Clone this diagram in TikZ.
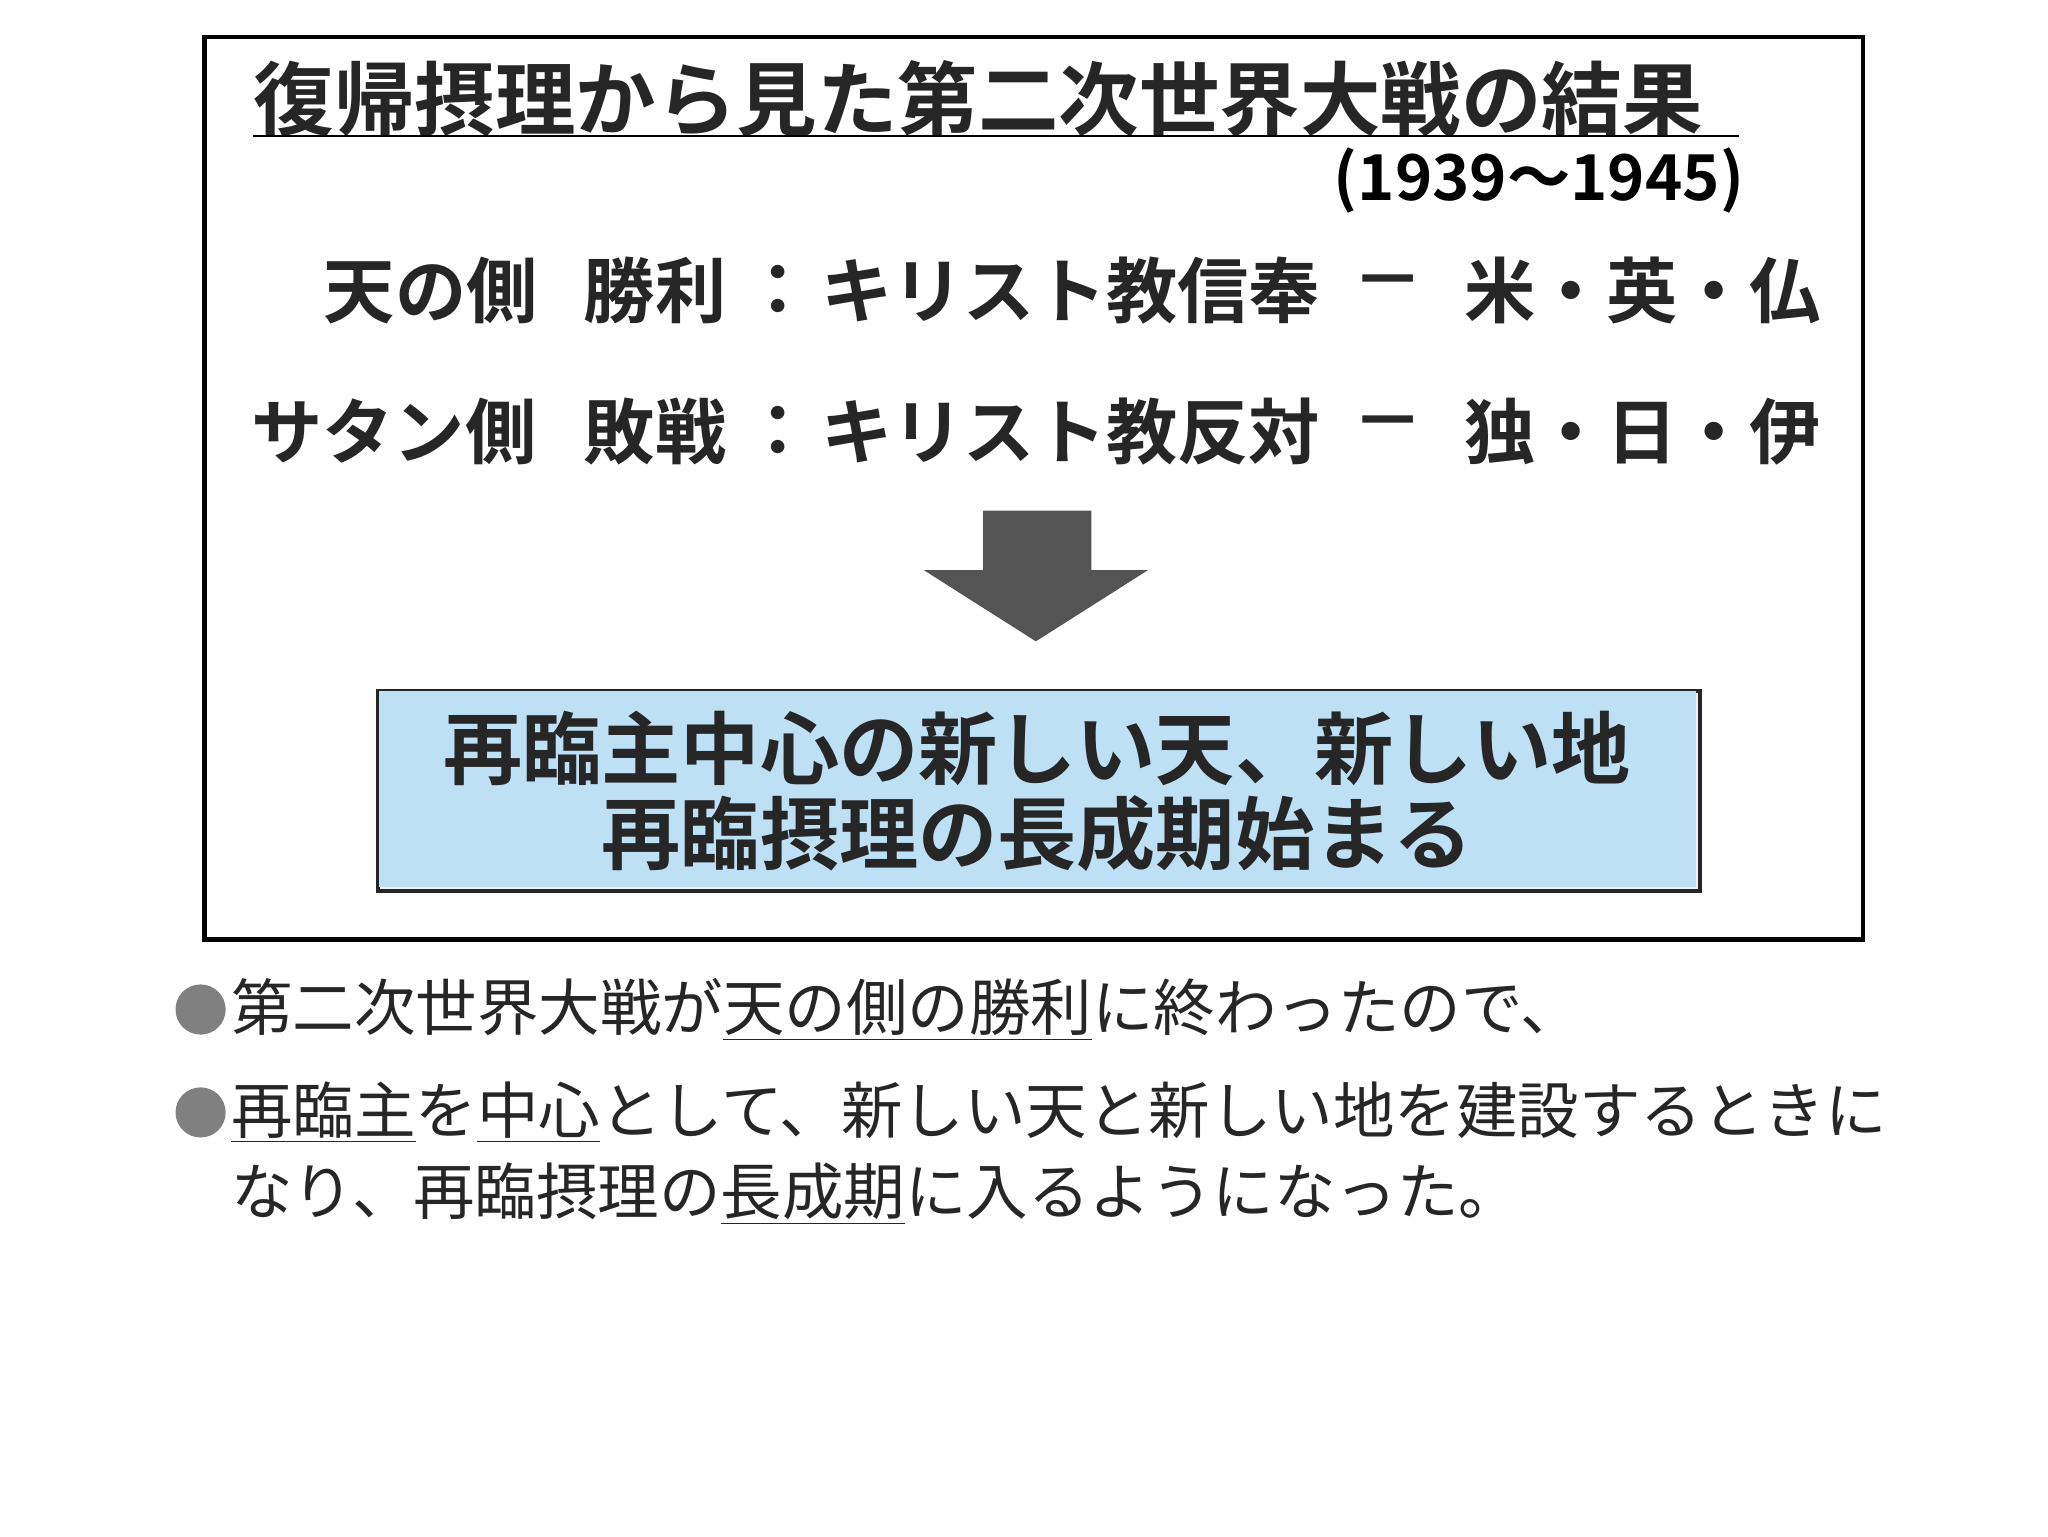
\documentclass[tikz,border=0pt]{standalone}
\usepackage{fontspec}
\setmainfont{Noto Sans CJK JP}[BoldFont={Noto Sans CJK JP Bold}]
\begin{document}
\begin{tikzpicture}[x=0.5pt,y=-0.5pt,
  t/.style={inner sep=0pt,font=\bfseries\fontsize{27}{30}\selectfont,text=black!85},
  b/.style={inner sep=0pt,anchor=west,font=\fontsize{23.3}{28}\selectfont,text=black!85}]
\useasboundingbox[fill=white] (0,0) rectangle (1552,1164);
\draw[line width=1.6pt] (155,28) rectangle (1412,712);
\node[inner sep=0pt,anchor=west,font=\bfseries\fontsize{30.5}{34}\selectfont,text=black!85] (title) at (192,75) {復帰摂理から見た第二次世界大戦の結果};
\draw[line width=1pt] (192,103) -- (1318,103);
\node[inner sep=0pt,anchor=east,font=\bfseries\fontsize{24}{28}\selectfont] (yr) at (1322,137) {(1939～1945)};
\node[t,anchor=west] (a1) at (245,220) {天の側};
\node[t,anchor=west] (a2) at (442,220) {勝利};
\node[t] (a3) at (590,220) {：};
\node[t,anchor=west] (a4) at (622,220) {キリスト教信奉};
\node[t] (a5) at (1052,220) {－};
\node[t,anchor=east] (a6) at (1380,220) {米・英・仏};
\node[t,anchor=west] (c1) at (190,327) {サタン側};
\node[t,anchor=west] (c2) at (442,327) {敗戦};
\node[t] (c3) at (590,327) {：};
\node[t,anchor=west] (c4) at (622,327) {キリスト教反対};
\node[t] (c5) at (1052,327) {－};
\node[t,anchor=east] (c6) at (1380,327) {独・日・伊};
\fill[black!67] (745,387) -- (827,387) -- (827,432) -- (870,432) -- (785,486) -- (700,432) -- (745,432) -- cycle;
\node[draw=black!85,line width=1.5pt,fill=cyan!10!blue!5!white,minimum width=501pt,minimum height=76pt,anchor=north west,inner sep=0pt] (res) at (285,522) {};
\fill[fill={rgb,255:red,190;green,224;blue,245}] (287,524) rectangle (1285,672);
\node[t,font=\bfseries\fontsize{30}{34}\selectfont] (r1) at (786,567) {再臨主中心の新しい天、新しい地};
\node[t,font=\bfseries\fontsize{30}{34}\selectfont] (r2) at (786,632) {再臨摂理の長成期始まる};
\fill[black!50] (152,765) circle (19);
\fill[black!50] (152,843) circle (19);
\node[b] (l1) at (175,765) {第二次世界大戦が\underline{天の側の勝利}に終わったので、};
\node[b] (l2) at (175,843) {\underline{再臨主}を\underline{中心}として、新しい天と新しい地を建設するときに};
\node[b] (l3) at (175,905) {なり、再臨摂理の\underline{長成期}に入るようになった。};
\end{tikzpicture}
\end{document}
